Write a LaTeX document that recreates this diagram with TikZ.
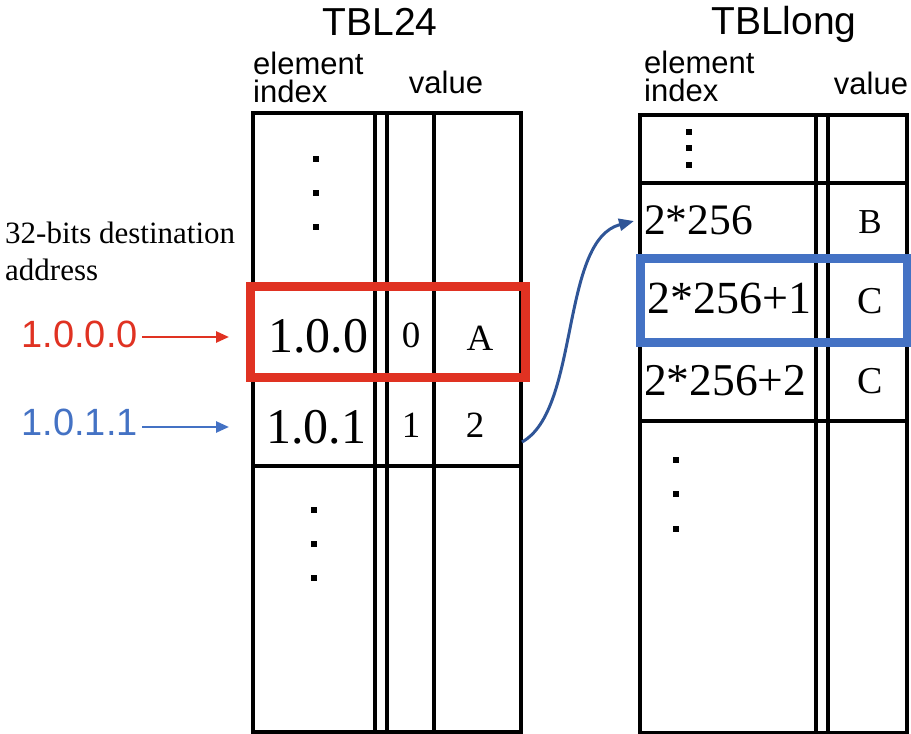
\documentclass[tikz,border=0pt]{standalone}
\usepackage{fontspec}
\setmainfont{Liberation Serif}
\newfontfamily\headsans{Liberation Sans}
\usetikzlibrary{arrows.meta}
\definecolor{hired}{HTML}{E03222}
\definecolor{hiblue}{HTML}{4472C4}
\definecolor{linkblue}{HTML}{2F5597}
\newcommand\fsz[1]{\fontsize{#1}{#1}\selectfont}

\begin{document}
\begin{tikzpicture}[x=1pt,y=-1pt,
  grid/.style={line width=3.2pt, black},
  title/.style={font=\headsans\fsz{39}, anchor=base, inner sep=0pt},
  colhead/.style={font=\headsans\fontsize{31}{28}\selectfont, inner sep=0pt, align=left},
  cell/.style={font=\fsz{#1}, anchor=base, inner sep=0pt},
  cellw/.style={font=\fsz{#1}, anchor=base west, inner sep=0pt},
  addr/.style={font=\headsans\fsz{38}, anchor=base east, inner sep=0pt},
  hitbox/.style={line width=9pt},
  inarrow/.style={line width=2.6pt, -{Triangle[length=13pt,width=11pt]}},
  linkarrow/.style={line width=3pt, linkblue, -{Triangle[length=15pt,width=12pt]}},
  vdot/.style={fill=black}
]
\useasboundingbox (0,0) rectangle (911,734);

% ---------------- headings
\node[title] (t24) at (380,35) {TBL24};
\node[title] (tlong) at (784,34) {TBLlong};
\node[colhead, anchor=north west] (h24i) at (253,52) {element\\index};
\node[colhead, anchor=base] (h24v) at (446,93) {value};
\node[colhead, anchor=north west] (hli) at (644,51) {element\\index};
\node[colhead, anchor=base] (hlv) at (871,94) {value};

% ---------------- TBL24 grid
\draw[grid] (253,113) rectangle (521,732);
\draw[grid] (375,113) -- (375,732);
\draw[grid] (387,113) -- (387,732);
\draw[grid] (434,113) -- (434,732);
\draw[grid] (253,286) -- (521,286);
\draw[grid] (253,377) -- (521,377);
\draw[grid] (253,466) -- (521,466);

\foreach \y in {159,193,227} \fill[vdot] (313,{\y-3}) rectangle ++(6,6);
\foreach \y in {510,544,578} \fill[vdot] (311,{\y-3}) rectangle ++(6,6);

\node[cell=50] (k100) at (318,352) {1.0.0};
\node[cell=37] (f100) at (411,347) {0};
\node[cell=37] (v100) at (480,350) {A};
\node[cell=50] (k101) at (316,443) {1.0.1};
\node[cell=37] (f101) at (411,437) {1};
\node[cell=37] (v101) at (475,437) {2};

\draw[hitbox, hired] (250,286.5) rectangle (525,377.5);

% ---------------- TBLlong grid
\draw[grid] (640,115) rectangle (907,733);
\draw[grid] (816,115) -- (816,733);
\draw[grid] (828,115) -- (828,733);
\draw[grid] (640,183) -- (907,183);
\draw[grid] (640,258) -- (907,258);
\draw[grid] (640,342) -- (907,342);
\draw[grid] (640,421) -- (907,421);

\foreach \y in {132,148,165} \fill[vdot] (686,{\y-3}) rectangle ++(6,6);
\foreach \y in {460,494,529} \fill[vdot] (673,{\y-3}) rectangle ++(6,6);

\node[cellw=43.5] (l0) at (644,234) {2*256};
\node[cell=35] (lv0) at (870,233) {B};
\node[cellw=46] (l1) at (647,313) {2*256+1};
\node[cell=38] (lv1) at (870,313) {C};
\node[cellw=45.5] (l2) at (644,395) {2*256+2};
\node[cell=38] (lv2) at (870,393) {C};

\draw[hitbox, hiblue] (640,258) rectangle (907,342);

% ---------------- destination addresses
\node[font=\fontsize{31}{37}\selectfont, align=left, anchor=north west, inner sep=0pt]
  (dst) at (5,222) {32-bits destination\\address};
\node[addr, text=hired] (ip1) at (138,347) {1.0.0.0};
\node[addr, text=hiblue] (ip2) at (138,435) {1.0.1.1};

\coordinate (in1) at (229,337);
\coordinate (in2) at (229,427);
\draw[inarrow, hired] (ip1.east |- in1) ++(4,0) -- (in1);
\draw[inarrow, hiblue] (ip2.east |- in2) ++(4,0) -- (in2);

% ---------------- link from TBL24 entry to TBLlong block
\coordinate (from101) at (522,442);
\coordinate (to256) at (634,221);
\draw[linkarrow] (from101) .. controls (580,410) and (560,240) .. (to256);
\end{tikzpicture}
\end{document}
